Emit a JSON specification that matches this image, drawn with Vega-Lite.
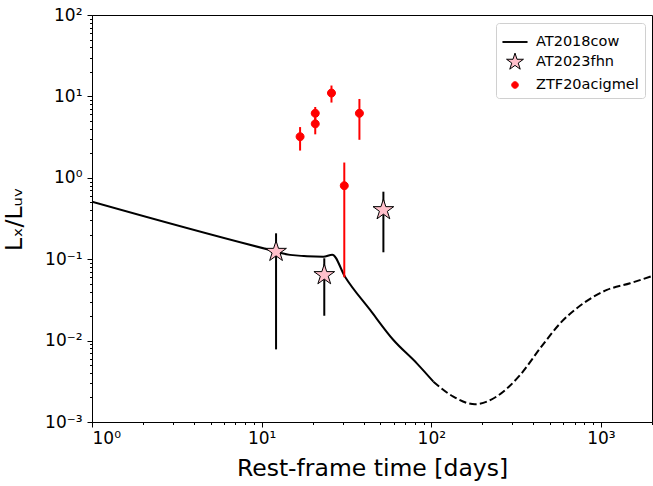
{
  "$schema": "https://vega.github.io/schema/vega-lite/v6.json",
  "width": 560,
  "height": 407,
  "autosize": {"type": "none"},
  "padding": {"left": 92, "top": 15, "right": 1, "bottom": 64},
  "background": "white",
  "config": {
    "font": "DejaVu Sans",
    "view": {"stroke": "black", "strokeWidth": 1},
    "axis": {"domainColor": "black", "tickColor": "black", "labelColor": "black", "titleColor": "black", "grid": false, "labelFont": "DejaVu Sans", "titleFont": "DejaVu Sans", "titleFontWeight": "normal", "tickWidth": 1, "domainWidth": 1},
    "legend": {"title": null, "orient": "top-right", "offset": 7.5, "padding": 6, "strokeColor": "#d0d0d0", "fillColor": "white", "cornerRadius": 3,
      "labelFontSize": 14.5, "labelColor": "black", "labelFont": "DejaVu Sans", "symbolSize": 600, "symbolStrokeWidth": 1, "symbolOpacity": 1, "labelOffset": 8, "rowPadding": 0}
  },
  "datasets": {
    "cow_solid": [
      {"t": 1, "r": 0.508},
      {"t": 11.2, "r": 0.13},
      {"t": 14.7, "r": 0.113},
      {"t": 23.1, "r": 0.107},
      {"t": 26.1, "r": 0.1136},
      {"t": 31.0, "r": 0.061},
      {"t": 43.6, "r": 0.0238},
      {"t": 59.8, "r": 0.01017},
      {"t": 82.2, "r": 0.00526},
      {"t": 102.9, "r": 0.00313}
    ],
    "cow_dash": [
      {"t": 102.9, "r": 0.00313},
      {"t": 134.9, "r": 0.00205},
      {"t": 181, "r": 0.00165},
      {"t": 243, "r": 0.00206},
      {"t": 334, "r": 0.00378},
      {"t": 438, "r": 0.00803},
      {"t": 575, "r": 0.0163},
      {"t": 788, "r": 0.0287},
      {"t": 1084, "r": 0.0419},
      {"t": 1486, "r": 0.0506},
      {"t": 2000, "r": 0.0622}
    ],
    "obs": [
      {"series": "ZTF20acigmel", "t": 16.85, "r": 3.2, "lo": 2.16, "hi": 4.2},
      {"series": "ZTF20acigmel", "t": 20.7, "r": 4.6, "lo": 3.42, "hi": 5.43},
      {"series": "ZTF20acigmel", "t": 20.7, "r": 6.2, "lo": 5.13, "hi": 7.41},
      {"series": "ZTF20acigmel", "t": 25.8, "r": 11.0, "lo": 8.4, "hi": 13.6},
      {"series": "ZTF20acigmel", "t": 30.7, "r": 0.8, "lo": 0.06, "hi": 1.54},
      {"series": "ZTF20acigmel", "t": 37.7, "r": 6.2, "lo": 2.93, "hi": 9.3},
      {"series": "AT2023fhn", "t": 12.16, "r": 0.1236, "lo": 0.0078, "hi": 0.208},
      {"series": "AT2023fhn", "t": 23.4, "r": 0.064, "lo": 0.0202, "hi": 0.1026},
      {"series": "AT2023fhn", "t": 52.2, "r": 0.402, "lo": 0.1216, "hi": 0.675}
    ]
  },
  "layer": [
    {
      "data": {"name": "cow_solid"},
      "mark": {"type": "line", "color": "black", "strokeWidth": 2, "interpolate": "monotone", "clip": true},
      "encoding": {
        "x": {"field": "t", "type": "quantitative", "scale": {"type": "log", "domain": [1, 2000], "nice": false},
          "axis": {"orient": "bottom", "values": [2,3,4,5,6,7,8,9,20,30,40,50,60,70,80,90,200,300,400,500,600,700,800,900,2000], "labels": false, "tickSize": 2.5, "domain": false, "title": null}},
        "y": {"field": "r", "type": "quantitative", "scale": {"type": "log", "domain": [0.001, 100], "nice": false},
          "axis": {"orient": "left", "values": [0.002,0.003,0.004,0.005,0.006,0.007,0.008,0.009,0.02,0.03,0.04,0.05,0.06,0.07,0.08,0.09,0.2,0.3,0.4,0.5,0.6,0.7,0.8,0.9,2,3,4,5,6,7,8,9,20,30,40,50,60,70,80,90], "labels": false, "tickSize": 2.5, "domain": false, "title": null}}
      }
    },
    {
      "data": {"name": "cow_dash"},
      "mark": {"type": "line", "color": "black", "strokeWidth": 2, "strokeDash": [7.4, 3.2], "interpolate": "monotone", "clip": true},
      "encoding": {
        "x": {"field": "t", "type": "quantitative", "scale": {"type": "log", "domain": [1, 2000], "nice": false},
          "axis": {"orient": "bottom", "values": [1, 10, 100, 1000], "tickSize": 5, "labelFontSize": 17, "labelPadding": 3,
            "labelExpr": "datum.value == 1 ? '10⁰' : datum.value == 10 ? '10¹' : datum.value == 100 ? '10²' : '10³'",
            "title": "Rest-frame time [days]", "titleFontSize": 23.5, "titlePadding": 10}},
        "y": {"field": "r", "type": "quantitative", "scale": {"type": "log", "domain": [0.001, 100], "nice": false},
          "axis": {"orient": "left", "values": [0.001, 0.01, 0.1, 1, 10, 100], "tickSize": 5, "labelFontSize": 17, "labelPadding": 5,
            "labelExpr": "datum.value == 100 ? '10²' : datum.value == 10 ? '10¹' : datum.value == 1 ? '10⁰' : datum.value == 0.1 ? '10⁻¹' : datum.value == 0.01 ? '10⁻²' : '10⁻³'",
            "title": "Lₓ/Lᵤᵥ", "titleFontSize": 23.5, "titlePadding": 18}}
      }
    },
    {
      "data": {"name": "obs"},
      "transform": [{"filter": {"field": "series", "equal": "ZTF20acigmel"}}],
      "mark": {"type": "rule", "color": "red", "strokeWidth": 2},
      "encoding": {
        "x": {"field": "t", "type": "quantitative", "scale": {"type": "log", "domain": [1, 2000], "nice": false}, "axis": null},
        "y": {"field": "lo", "type": "quantitative", "scale": {"type": "log", "domain": [0.001, 100], "nice": false}, "axis": null},
        "y2": {"field": "hi"}
      }
    },
    {
      "data": {"name": "obs"},
      "transform": [{"filter": {"field": "series", "equal": "AT2023fhn"}}],
      "mark": {"type": "rule", "color": "black", "strokeWidth": 2},
      "encoding": {
        "x": {"field": "t", "type": "quantitative", "scale": {"type": "log", "domain": [1, 2000], "nice": false}, "axis": null},
        "y": {"field": "lo", "type": "quantitative", "scale": {"type": "log", "domain": [0.001, 100], "nice": false}, "axis": null},
        "y2": {"field": "hi"}
      }
    },
    {
      "data": {"name": "obs"},
      "mark": {"type": "point", "filled": true, "opacity": 1, "size": 900, "strokeWidth": 1},
      "encoding": {
        "x": {"field": "t", "type": "quantitative", "scale": {"type": "log", "domain": [1, 2000], "nice": false}, "axis": null},
        "y": {"field": "r", "type": "quantitative", "scale": {"type": "log", "domain": [0.001, 100], "nice": false}, "axis": null},
        "shape": {"field": "series", "type": "nominal",
          "scale": {"domain": ["AT2018cow", "AT2023fhn", "ZTF20acigmel"],
            "range": ["M-1,-0.033L1,-0.033L1,0.033L-1,0.033Z",
                      "M0,-0.726L0.163,-0.224L0.69,-0.224L0.264,0.086L0.427,0.587L0,0.277L-0.427,0.587L-0.264,0.086L-0.69,-0.224L-0.163,-0.224Z",
                      "M0.267,0A0.267,0.267,0,1,1,-0.267,0A0.267,0.267,0,1,1,0.267,0Z"]}},
        "fill": {"field": "series", "type": "nominal",
          "scale": {"domain": ["AT2018cow", "AT2023fhn", "ZTF20acigmel"], "range": ["black", "pink", "red"]}},
        "stroke": {"field": "series", "type": "nominal",
          "scale": {"domain": ["AT2018cow", "AT2023fhn", "ZTF20acigmel"], "range": ["black", "black", "red"]}}
      }
    }
  ],
  "resolve": {"axis": {"x": "independent", "y": "independent"}, "scale": {"x": "shared", "y": "shared"}}
}
